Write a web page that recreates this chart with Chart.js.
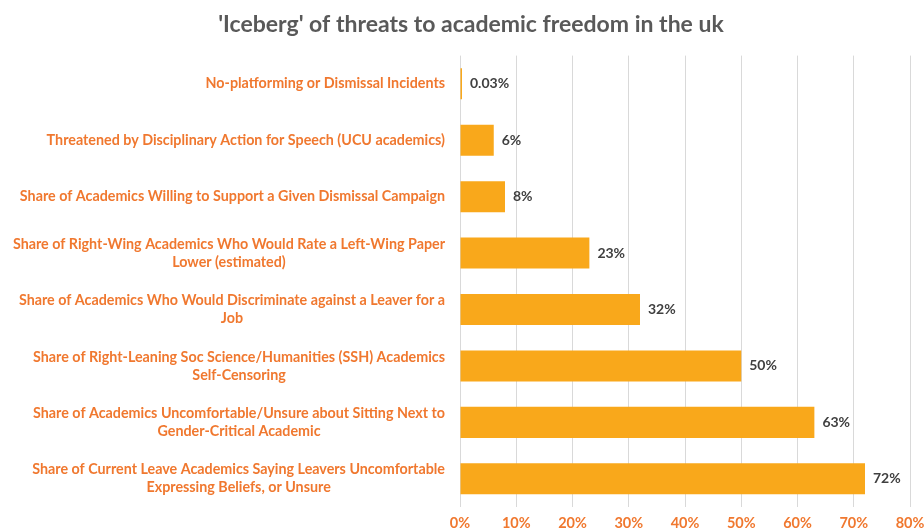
<!DOCTYPE html>
<html>
<head>
<meta charset="utf-8">
<script src="https://cdn.jsdelivr.net/npm/chart.js@4/dist/chart.umd.min.js"></script>
<style>
  html, body { margin: 0; padding: 0; background: #ffffff; }
  #wrap { width: 924px; height: 531px; position: relative; }
</style>
</head>
<body>
<div id="wrap"><canvas id="chart"></canvas></div>
<script>
// Categories, top to bottom (multi-line labels as arrays)
const categories = [
  ["No-platforming or Dismissal Incidents"],
  ["Threatened by Disciplinary Action for Speech (UCU academics)"],
  ["Share of Academics Willing to Support a Given Dismissal Campaign"],
  ["Share of Right-Wing Academics Who Would Rate a Left-Wing Paper", "Lower (estimated)"],
  ["Share of Academics Who Would Discriminate against a Leaver for a", "Job"],
  ["Share of Right-Leaning Soc Science/Humanities (SSH) Academics", "Self-Censoring"],
  ["Share of Academics Uncomfortable/Unsure about Sitting Next to", "Gender-Critical Academic"],
  ["Share of Current Leave Academics Saying Leavers Uncomfortable", "Expressing Beliefs, or Unsure"]
];
// Percentages
const shares = [0.03, 6, 8, 23, 32, 50, 63, 72];
// X-axis tick values
const xTicks = [0, 10, 20, 30, 40, 50, 60, 70, 80];

const titleText = "'Iceberg' of threats to academic freedom in the uk";
const FONT = "Lato, 'Open Sans', sans-serif";
const ORANGE = '#F0782F';
const BAR = '#F9A81B';

// Category labels: right-aligned block, each line centred inside the block
const categoryLabels = {
  id: 'categoryLabels',
  afterDraw(chart) {
    const ctx = chart.ctx;
    const y = chart.scales.y;
    const right = chart.chartArea.left - 15;
    const lh = 18;
    ctx.save();
    ctx.font = 'bold 14.3px ' + FONT;
    ctx.fillStyle = ORANGE;
    ctx.textAlign = 'center';
    ctx.textBaseline = 'middle';
    categories.forEach((lines, i) => {
      const w = Math.max(...lines.map(l => ctx.measureText(l).width));
      const cx = right - w / 2;
      const cy = y.getPixelForValue(i);
      const top = cy - (lines.length - 1) * lh / 2;
      lines.forEach((l, k) => ctx.fillText(l, cx, top + k * lh));
    });
    ctx.restore();
  }
};

// Value labels at the end of each bar
const valueLabels = {
  id: 'valueLabels',
  afterDatasetsDraw(chart) {
    const ctx = chart.ctx;
    const meta = chart.getDatasetMeta(0);
    ctx.save();
    ctx.font = 'bold 14px ' + FONT;
    ctx.fillStyle = '#404040';
    ctx.textAlign = 'left';
    ctx.textBaseline = 'middle';
    meta.data.forEach((bar, i) => {
      ctx.fillText(shares[i] + '%', bar.x + 8, bar.y);
    });
    ctx.restore();
  }
};

new Chart(document.getElementById('chart'), {
  type: 'bar',
  data: {
    labels: categories,
    datasets: [{
      data: shares,
      backgroundColor: BAR,
      borderWidth: 0,
      minBarLength: 2,
      barPercentage: 0.55,
      categoryPercentage: 1.0
    }]
  },
  options: {
    indexAxis: 'y',
    responsive: true,
    maintainAspectRatio: false,
    animation: false,
    layout: { padding: { left: 18, right: 0, top: 0, bottom: 0 } },
    plugins: {
      legend: { display: false },
      tooltip: { enabled: false },
      title: {
        display: true,
        text: titleText,
        color: '#595959',
        font: { family: FONT, size: 23, weight: 'bold' },
        padding: { top: 11, bottom: 17 }
      }
    },
    scales: {
      x: {
        min: 0,
        max: 80,
        afterBuildTicks(scale) { scale.ticks = xTicks.map(v => ({ value: v })); },
        afterFit(scale) {
          scale.height = 24;
          scale.paddingLeft = 0;
          scale.paddingRight = 14;
        },
        ticks: {
          color: ORANGE,
          font: { family: FONT, size: 14.5, weight: 'bold' },
          padding: 8,
          callback: v => v + '%'
        },
        grid: { color: '#d9d9d9', drawTicks: false },
        border: { display: false }
      },
      y: {
        afterFit(scale) { scale.width = 442; },
        ticks: { display: false },
        grid: { display: false },
        border: { display: false }
      }
    }
  },
  plugins: [categoryLabels, valueLabels]
});
</script>
</body>
</html>
